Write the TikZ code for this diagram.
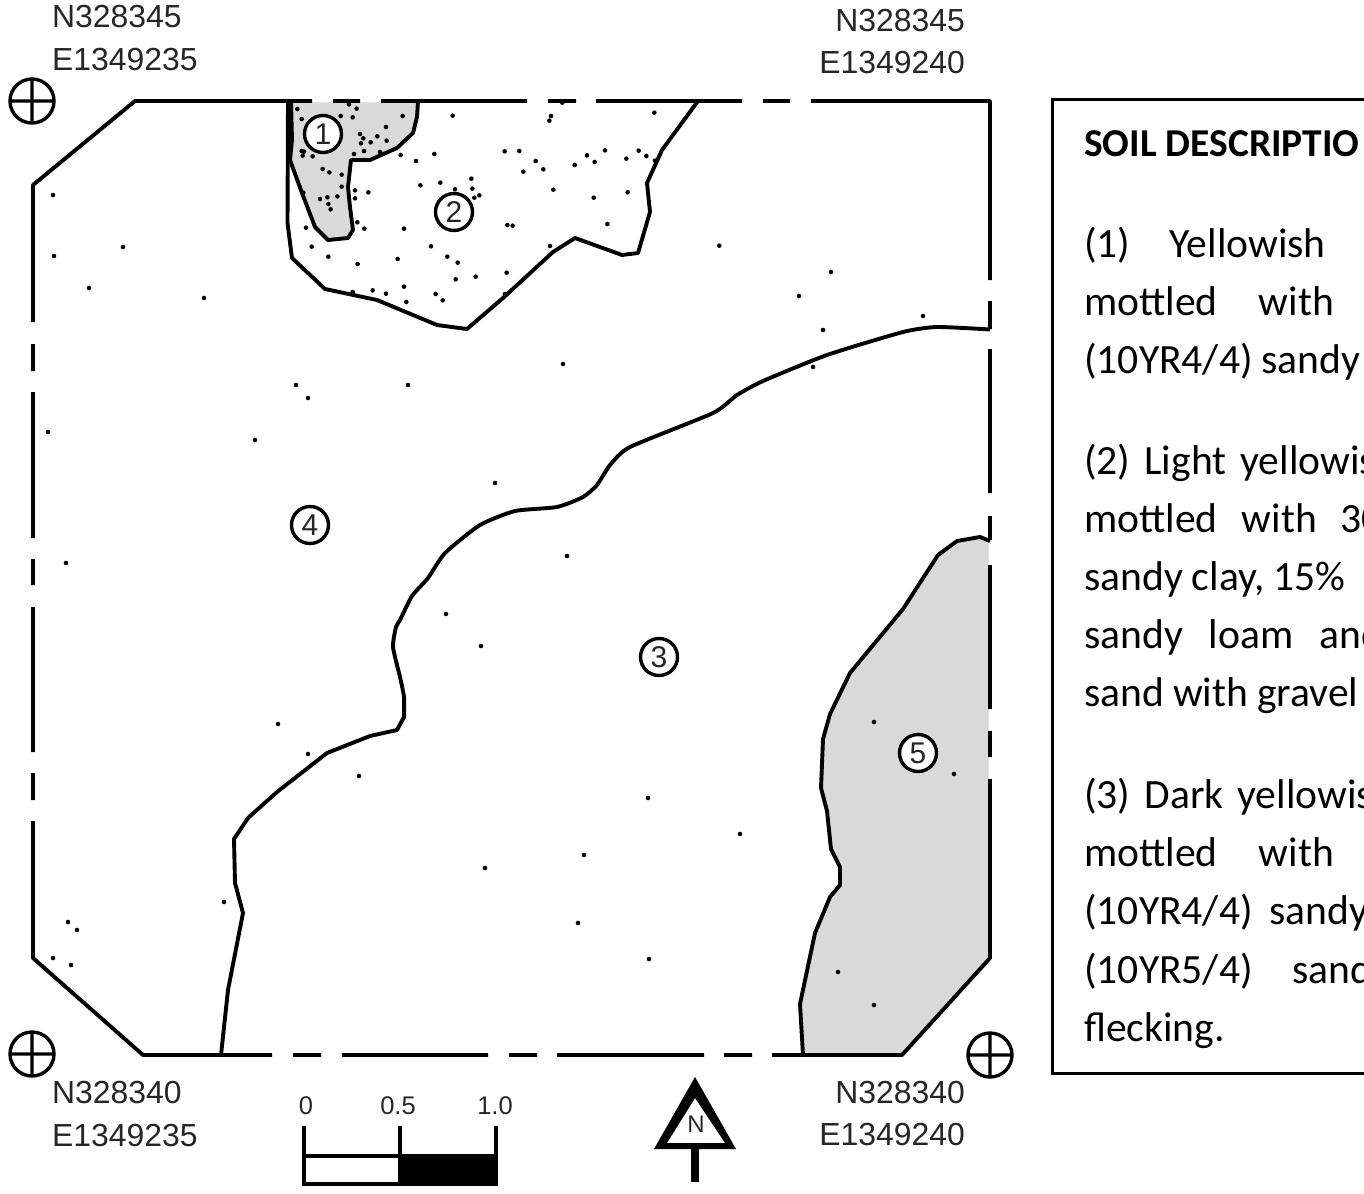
\documentclass[tikz,border=0pt]{standalone}
\usepackage{fontspec}
\setmainfont{Liberation Sans}
\newfontfamily\carl{Carlito}
\newcommand\ws[1]{\spaceskip=#1pt\relax}
\definecolor{soilgray}{HTML}{D9D9D9}
\tikzset{
  x=1pt,y=-1pt,
  line/.style={line width=3.9pt,line join=round,draw=black},
  coord/.style={font=\fontsize{31.9}{31.9}\selectfont,inner sep=0pt,text=black!85},
  scalelbl/.style={font=\fontsize{25.5}{25.5}\selectfont,inner sep=0pt,anchor=base,text=black!85},
  tag/.style={circle,draw=black,fill=white,line width=3.4pt,minimum size=37pt,inner sep=0pt,font=\fontsize{30}{30}\selectfont,text=black!85},
  soil/.style={font=\carl\fontsize{41.6}{41.6}\selectfont,inner sep=0pt,anchor=base west,text=black},
  cross/.pic={\draw[line width=3.4pt] (0,0) circle (22) (-22,0)--(22,0) (0,-22)--(0,22);}
}
\begin{document}
\begin{tikzpicture}
\useasboundingbox (0,0) rectangle (1364,1193);
\fill[white] (0,0) rectangle (1364,1193);
% shaded soils
\fill[soilgray] (291,102.5) -- (292,140) -- (290,160) -- (302,193) -- (315,227) -- (328,240) -- (348,238) -- (353,230) -- (350,207) -- (348,187) -- (351,160) -- (370,160) -- (397,148) -- (413,133) -- (417,117) -- (418,102.5) -- cycle;
\fill[soilgray] (803,1055) -- (800,1004) -- (815,933) -- (830,897) -- (840,885) -- (840,867) -- (831,849) -- (827,811) -- (821,788) -- (823,739) -- (830,714) -- (850,673) -- (903,609) -- (938,555) -- (957,541) -- (980,537) -- (988.5,541) -- (988.5,958) -- (902,1055) -- cycle;
% dots
\foreach \a/\b in {52/57,65/87,207/43,230/56,182/78,218/82,368/78,518/77,318/111,240/132,292/139,320/152,250/145,243/160,272/157,222/192,252/183,300/186,362/195,463/192,408/213,65/183,72/185,68/197,98/199,128/237,148/247,185/254,574/266,481/278,421/286,577/296,185/290,225/301,265/307,598/316,583/323,525/298,70/308,225/325,172/319,120/327,142/322,145/342,152/358,232/397,78/413,253/416,372/416,453/469,95/470,145/500,502/500,533/518,353/507,233/522,587/560,527/568,372/590,278/601,318/611,467/612,488/631,379/636,218/606}
  \fill ({280+\a/3},{90+\b/3}) circle (2.3);
\foreach \a/\b in {493/68,183/78,178/92,217/38,44/184,88/183,137/213,100/245,160/238,291/196,345/181,314/216,254/225,409/206,446/182,469/198,495/212,190/299,413/307,311/323,52/405,68/407,352/402,180/468,688/467,50/548,45/612}
  \fill ({490+\a/3},{90+\b/3}) circle (2.3);
\foreach \a/\b in {53/195,123/247,54/256,89/288,204/298,831/272,799/296,823/330,923/316,813/367,563/364,408/385,296/385,308/398,48/432,255/440,495/483,567/556,66/563,446/614,481/646,278/724,308/754,359/776,874/722,954/774,648/798,740/834,584/855,485/868,224/902,578/923,68/922,77/930,53/958,71/965,649/959,838/972,874/1005}
  \fill (\a,\b) circle (2.3);
% soil boundaries
\draw[line] (291,101) -- (292,140) -- (290,160) -- (302,193) -- (315,227) -- (328,240) -- (348,238) -- (353,230) -- (350,207) -- (348,187) -- (351,160) -- (370,160) -- (397,148) -- (413,133) -- (417,117) -- (418,101);
\draw[line] (288,101) -- (287.5,223) -- (292,258) -- (325,289) -- (377,300) -- (437,325) -- (467,329) -- (503,298) -- (553,252) -- (575,238) -- (622,255) -- (638,253) -- (650,212) -- (647,183) -- (662,150) -- (698,101);
\draw[line] plot[smooth,tension=0.35] coordinates {(990,329.5) (937,327) (903,332) (827,355) (763,381) (737,395) (713,413) (630,447) (610,465) (597,485) (583,497) (557,507) (515,511) (480,525) (445,553) (428,578) (412,596) (400,620) (396,627) (393,647) (400,677) (404,697) (404,717)} -- (397,730) -- (370,736) -- (327,753) -- (277,792) -- (248,818) -- (234,839) -- (235,883) -- (243,913) -- (228,990) -- (221,1055);
\draw[line] (803,1055) -- (800,1004) -- (815,933) -- (830,897) -- (840,885) -- (840,867) -- (831,849) -- (827,811) -- (821,788) -- (823,739) -- (830,714) -- (850,673) -- (903,609) -- (938,555) -- (957,541) -- (980,537) -- (990,541);
% survey boundary
\draw[line]
  (312,101) -- (135,101) -- (33,185) -- (33,322)
  (33,344) -- (33,371)  (33,392) -- (33,538)  (33,559) -- (33,585)
  (33,607) -- (33,752)  (33,773) -- (33,800)
  (33,821) -- (33,958) -- (143,1055) -- (272,1055)
  (293,1055) -- (321,1055)  (342,1055) -- (488,1055)  (509,1055) -- (537,1055)
  (557,1055) -- (704,1055)  (724,1055) -- (752,1055)
  (772,1055) -- (902,1055) -- (990,958) -- (990,779)
  (990,757) -- (990,731)  (990,709) -- (990,565)  (990,540) -- (990,516)
  (990,493) -- (990,349)  (990,329) -- (990,301)
  (990,280) -- (990,101) -- (811,101)
  (790,101) -- (763,101)  (742,101) -- (596,101)  (576,101) -- (548,101)
  (527,101) -- (381,101)  (360,101) -- (333,101);
% corner marks
\pic at (32,101) {cross};
\pic at (32,1054) {cross};
\pic at (990,1055) {cross};
% corner coordinates
\node[coord,anchor=base west] (nw1) at (52,28) {N328345};
\node[coord,anchor=base west] (nw2) at (52,71) {E1349235};
\node[coord,anchor=base east] (ne1) at (965,32) {N328345};
\node[coord,anchor=base east] (ne2) at (965,74) {E1349240};
\node[coord,anchor=base west] (sw1) at (52,1103) {N328340};
\node[coord,anchor=base west] (sw2) at (52,1146) {E1349235};
\node[coord,anchor=base east] (se1) at (965,1103) {N328340};
\node[coord,anchor=base east] (se2) at (965,1145) {E1349240};
% soil tags
\node[tag] (t1) at (323,134) {1};
\node[tag] (t2) at (454,212) {2};
\node[tag] (t3) at (659,657) {3};
\node[tag] (t4) at (310,525) {4};
\node[tag] (t5) at (918,753) {5};
% scale bar
\fill (400,1156) rectangle (496,1184);
\draw[line width=3.4pt,line join=miter] (304,1126) -- (304,1184) -- (496,1184) -- (496,1126);
\draw[line width=3.4pt] (304,1156) -- (496,1156) (400,1126) -- (400,1184);
\node[scalelbl] (s0) at (306,1114) {0};
\node[scalelbl] (s1) at (398,1114) {0.5};
\node[scalelbl] (s2) at (495,1114) {1.0};
% north arrow
\fill[even odd rule] (695,1077) -- (736,1149) -- (654,1149) -- cycle (695,1098) -- (667,1143) -- (725,1143) -- cycle;
\fill (691,1149) rectangle (699,1182);
\node[inner sep=0pt,font=\fontsize{24}{24}\selectfont,text=black!85] (north) at (696,1124) {N};
% soil description box
\draw[line width=3pt,line join=miter] (1366,100) -- (1052,100) -- (1052,1073) -- (1366,1073);
\node[soil,font=\carl\bfseries\fontsize{39.5}{39.5}\selectfont] (h) at (1084,157) {SOIL DESCRIPTIO};
\node[soil] (a1) at (1084,257) {\ws{39}(1) Yellowish};
\node[soil] (a2) at (1084,315) {\ws{41}mottled with};
\node[soil] (a3) at (1084,373) {\ws{9}(10YR4/4) sandy};
\node[soil] (b1) at (1084,474) {\ws{14}(2) Light yellowis};
\node[soil] (b2) at (1084,532) {\ws{24}mottled with 30};
\node[soil] (b3) at (1084,590) {\ws{9}sandy clay, 15\%};
\node[soil] (b4) at (1084,648) {\ws{26}sandy loam and};
\node[soil] (b5) at (1084,706) {\ws{9}sand with gravel};
\node[soil] (c1) at (1084,808) {\ws{14}(3) Dark yellowis};
\node[soil] (c2) at (1084,866) {\ws{41}mottled with};
\node[soil] (c3) at (1084,924) {\ws{17}(10YR4/4) sandy};
\node[soil] (c4) at (1084,983) {\ws{40}(10YR5/4) sand};
\node[soil] (c5) at (1084,1041) {flecking.};
\end{tikzpicture}
\end{document}
